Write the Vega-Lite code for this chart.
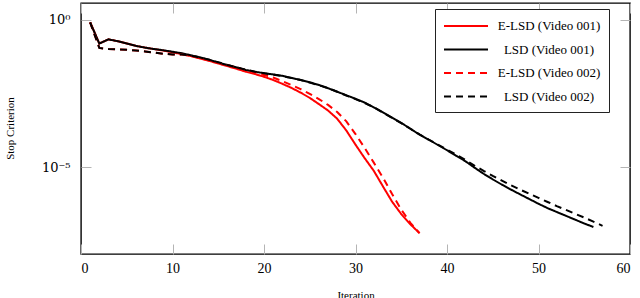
{
  "$schema": "https://vega.github.io/schema/vega-lite/v6.json",
  "width": 549,
  "height": 251,
  "autosize": {"type": "none"},
  "padding": {"left": 81, "top": 3, "right": 10, "bottom": 44},
  "background": "white",
  "datasets": {
    "curves": [
      {"s": "E-LSD (Video 001)", "x": 1, "y": 0.832},
      {"s": "E-LSD (Video 001)", "x": 2, "y": 0.158},
      {"s": "E-LSD (Video 001)", "x": 3, "y": 0.2188},
      {"s": "E-LSD (Video 001)", "x": 4, "y": 0.1905},
      {"s": "E-LSD (Video 001)", "x": 5, "y": 0.1585},
      {"s": "E-LSD (Video 001)", "x": 6, "y": 0.1318},
      {"s": "E-LSD (Video 001)", "x": 7, "y": 0.1148},
      {"s": "E-LSD (Video 001)", "x": 8, "y": 0.1023},
      {"s": "E-LSD (Video 001)", "x": 9, "y": 0.0912},
      {"s": "E-LSD (Video 001)", "x": 10, "y": 0.0794},
      {"s": "E-LSD (Video 001)", "x": 11, "y": 0.0692},
      {"s": "E-LSD (Video 001)", "x": 12, "y": 0.0589},
      {"s": "E-LSD (Video 001)", "x": 13, "y": 0.049},
      {"s": "E-LSD (Video 001)", "x": 14, "y": 0.0407},
      {"s": "E-LSD (Video 001)", "x": 15, "y": 0.0331},
      {"s": "E-LSD (Video 001)", "x": 16, "y": 0.0269},
      {"s": "E-LSD (Video 001)", "x": 17, "y": 0.0219},
      {"s": "E-LSD (Video 001)", "x": 18, "y": 0.0174},
      {"s": "E-LSD (Video 001)", "x": 19, "y": 0.0145},
      {"s": "E-LSD (Video 001)", "x": 20, "y": 0.0117},
      {"s": "E-LSD (Video 001)", "x": 21, "y": 0.00912},
      {"s": "E-LSD (Video 001)", "x": 22, "y": 0.00676},
      {"s": "E-LSD (Video 001)", "x": 23, "y": 0.0049},
      {"s": "E-LSD (Video 001)", "x": 24, "y": 0.00339},
      {"s": "E-LSD (Video 001)", "x": 25, "y": 0.00224},
      {"s": "E-LSD (Video 001)", "x": 26, "y": 0.00138},
      {"s": "E-LSD (Video 001)", "x": 27, "y": 8.32e-4},
      {"s": "E-LSD (Video 001)", "x": 28, "y": 4.37e-4},
      {"s": "E-LSD (Video 001)", "x": 29, "y": 1.74e-4},
      {"s": "E-LSD (Video 001)", "x": 30, "y": 5.75e-5},
      {"s": "E-LSD (Video 001)", "x": 31, "y": 2.0e-5},
      {"s": "E-LSD (Video 001)", "x": 32, "y": 7.41e-6},
      {"s": "E-LSD (Video 001)", "x": 33, "y": 2.19e-6},
      {"s": "E-LSD (Video 001)", "x": 34, "y": 6.61e-7},
      {"s": "E-LSD (Video 001)", "x": 35, "y": 2.51e-7},
      {"s": "E-LSD (Video 001)", "x": 36, "y": 1.12e-7},
      {"s": "E-LSD (Video 001)", "x": 37, "y": 5.62e-8},
      {"s": "LSD (Video 001)", "x": 1, "y": 0.832},
      {"s": "LSD (Video 001)", "x": 2, "y": 0.158},
      {"s": "LSD (Video 001)", "x": 3, "y": 0.2188},
      {"s": "LSD (Video 001)", "x": 4, "y": 0.1905},
      {"s": "LSD (Video 001)", "x": 5, "y": 0.1585},
      {"s": "LSD (Video 001)", "x": 6, "y": 0.1318},
      {"s": "LSD (Video 001)", "x": 7, "y": 0.1148},
      {"s": "LSD (Video 001)", "x": 8, "y": 0.1023},
      {"s": "LSD (Video 001)", "x": 9, "y": 0.0933},
      {"s": "LSD (Video 001)", "x": 10, "y": 0.0832},
      {"s": "LSD (Video 001)", "x": 11, "y": 0.0741},
      {"s": "LSD (Video 001)", "x": 12, "y": 0.0631},
      {"s": "LSD (Video 001)", "x": 13, "y": 0.0537},
      {"s": "LSD (Video 001)", "x": 14, "y": 0.0447},
      {"s": "LSD (Video 001)", "x": 15, "y": 0.0355},
      {"s": "LSD (Video 001)", "x": 16, "y": 0.0295},
      {"s": "LSD (Video 001)", "x": 17, "y": 0.0245},
      {"s": "LSD (Video 001)", "x": 18, "y": 0.02},
      {"s": "LSD (Video 001)", "x": 19, "y": 0.0174},
      {"s": "LSD (Video 001)", "x": 20, "y": 0.0155},
      {"s": "LSD (Video 001)", "x": 21, "y": 0.0141},
      {"s": "LSD (Video 001)", "x": 22, "y": 0.0126},
      {"s": "LSD (Video 001)", "x": 23, "y": 0.0107},
      {"s": "LSD (Video 001)", "x": 24, "y": 0.00912},
      {"s": "LSD (Video 001)", "x": 25, "y": 0.00759},
      {"s": "LSD (Video 001)", "x": 26, "y": 0.00617},
      {"s": "LSD (Video 001)", "x": 27, "y": 0.00479},
      {"s": "LSD (Video 001)", "x": 28, "y": 0.00363},
      {"s": "LSD (Video 001)", "x": 29, "y": 0.00275},
      {"s": "LSD (Video 001)", "x": 30, "y": 0.00209},
      {"s": "LSD (Video 001)", "x": 31, "y": 0.00155},
      {"s": "LSD (Video 001)", "x": 32, "y": 0.00107},
      {"s": "LSD (Video 001)", "x": 33, "y": 7.24e-4},
      {"s": "LSD (Video 001)", "x": 34, "y": 4.79e-4},
      {"s": "LSD (Video 001)", "x": 35, "y": 3.16e-4},
      {"s": "LSD (Video 001)", "x": 36, "y": 2.0e-4},
      {"s": "LSD (Video 001)", "x": 37, "y": 1.26e-4},
      {"s": "LSD (Video 001)", "x": 38, "y": 8.51e-5},
      {"s": "LSD (Video 001)", "x": 39, "y": 5.62e-5},
      {"s": "LSD (Video 001)", "x": 40, "y": 3.72e-5},
      {"s": "LSD (Video 001)", "x": 41, "y": 2.4e-5},
      {"s": "LSD (Video 001)", "x": 42, "y": 1.58e-5},
      {"s": "LSD (Video 001)", "x": 43, "y": 9.55e-6},
      {"s": "LSD (Video 001)", "x": 44, "y": 5.89e-6},
      {"s": "LSD (Video 001)", "x": 45, "y": 3.8e-6},
      {"s": "LSD (Video 001)", "x": 46, "y": 2.51e-6},
      {"s": "LSD (Video 001)", "x": 47, "y": 1.7e-6},
      {"s": "LSD (Video 001)", "x": 48, "y": 1.17e-6},
      {"s": "LSD (Video 001)", "x": 49, "y": 8.13e-7},
      {"s": "LSD (Video 001)", "x": 50, "y": 5.62e-7},
      {"s": "LSD (Video 001)", "x": 51, "y": 3.98e-7},
      {"s": "LSD (Video 001)", "x": 52, "y": 2.95e-7},
      {"s": "LSD (Video 001)", "x": 53, "y": 2.19e-7},
      {"s": "LSD (Video 001)", "x": 54, "y": 1.62e-7},
      {"s": "LSD (Video 001)", "x": 55, "y": 1.2e-7},
      {"s": "LSD (Video 001)", "x": 56, "y": 9.12e-8},
      {"s": "E-LSD (Video 002)", "x": 1, "y": 0.832},
      {"s": "E-LSD (Video 002)", "x": 2, "y": 0.1122},
      {"s": "E-LSD (Video 002)", "x": 3, "y": 0.1023},
      {"s": "E-LSD (Video 002)", "x": 4, "y": 0.1},
      {"s": "E-LSD (Video 002)", "x": 5, "y": 0.0977},
      {"s": "E-LSD (Video 002)", "x": 6, "y": 0.0912},
      {"s": "E-LSD (Video 002)", "x": 7, "y": 0.0851},
      {"s": "E-LSD (Video 002)", "x": 8, "y": 0.0776},
      {"s": "E-LSD (Video 002)", "x": 9, "y": 0.0708},
      {"s": "E-LSD (Video 002)", "x": 10, "y": 0.0676},
      {"s": "E-LSD (Video 002)", "x": 11, "y": 0.0676},
      {"s": "E-LSD (Video 002)", "x": 12, "y": 0.0603},
      {"s": "E-LSD (Video 002)", "x": 13, "y": 0.0501},
      {"s": "E-LSD (Video 002)", "x": 14, "y": 0.0417},
      {"s": "E-LSD (Video 002)", "x": 15, "y": 0.0347},
      {"s": "E-LSD (Video 002)", "x": 16, "y": 0.0288},
      {"s": "E-LSD (Video 002)", "x": 17, "y": 0.024},
      {"s": "E-LSD (Video 002)", "x": 18, "y": 0.0195},
      {"s": "E-LSD (Video 002)", "x": 19, "y": 0.0162},
      {"s": "E-LSD (Video 002)", "x": 20, "y": 0.0135},
      {"s": "E-LSD (Video 002)", "x": 21, "y": 0.011},
      {"s": "E-LSD (Video 002)", "x": 22, "y": 0.00832},
      {"s": "E-LSD (Video 002)", "x": 23, "y": 0.00617},
      {"s": "E-LSD (Video 002)", "x": 24, "y": 0.00447},
      {"s": "E-LSD (Video 002)", "x": 25, "y": 0.00309},
      {"s": "E-LSD (Video 002)", "x": 26, "y": 0.00204},
      {"s": "E-LSD (Video 002)", "x": 27, "y": 0.00129},
      {"s": "E-LSD (Video 002)", "x": 28, "y": 7.41e-4},
      {"s": "E-LSD (Video 002)", "x": 29, "y": 3.55e-4},
      {"s": "E-LSD (Video 002)", "x": 30, "y": 1.32e-4},
      {"s": "E-LSD (Video 002)", "x": 31, "y": 4.47e-5},
      {"s": "E-LSD (Video 002)", "x": 32, "y": 1.41e-5},
      {"s": "E-LSD (Video 002)", "x": 33, "y": 4.37e-6},
      {"s": "E-LSD (Video 002)", "x": 34, "y": 1.2e-6},
      {"s": "E-LSD (Video 002)", "x": 35, "y": 3.55e-7},
      {"s": "E-LSD (Video 002)", "x": 36, "y": 1.26e-7},
      {"s": "E-LSD (Video 002)", "x": 37, "y": 5.62e-8},
      {"s": "LSD (Video 002)", "x": 1, "y": 0.832},
      {"s": "LSD (Video 002)", "x": 2, "y": 0.1122},
      {"s": "LSD (Video 002)", "x": 3, "y": 0.1023},
      {"s": "LSD (Video 002)", "x": 4, "y": 0.1},
      {"s": "LSD (Video 002)", "x": 5, "y": 0.0977},
      {"s": "LSD (Video 002)", "x": 6, "y": 0.0912},
      {"s": "LSD (Video 002)", "x": 7, "y": 0.0851},
      {"s": "LSD (Video 002)", "x": 8, "y": 0.0776},
      {"s": "LSD (Video 002)", "x": 9, "y": 0.0708},
      {"s": "LSD (Video 002)", "x": 10, "y": 0.0676},
      {"s": "LSD (Video 002)", "x": 11, "y": 0.0676},
      {"s": "LSD (Video 002)", "x": 12, "y": 0.0617},
      {"s": "LSD (Video 002)", "x": 13, "y": 0.0525},
      {"s": "LSD (Video 002)", "x": 14, "y": 0.0447},
      {"s": "LSD (Video 002)", "x": 15, "y": 0.0363},
      {"s": "LSD (Video 002)", "x": 16, "y": 0.0295},
      {"s": "LSD (Video 002)", "x": 17, "y": 0.0245},
      {"s": "LSD (Video 002)", "x": 18, "y": 0.0204},
      {"s": "LSD (Video 002)", "x": 19, "y": 0.0174},
      {"s": "LSD (Video 002)", "x": 20, "y": 0.0155},
      {"s": "LSD (Video 002)", "x": 21, "y": 0.0138},
      {"s": "LSD (Video 002)", "x": 22, "y": 0.0123},
      {"s": "LSD (Video 002)", "x": 23, "y": 0.0107},
      {"s": "LSD (Video 002)", "x": 24, "y": 0.00912},
      {"s": "LSD (Video 002)", "x": 25, "y": 0.00741},
      {"s": "LSD (Video 002)", "x": 26, "y": 0.00603},
      {"s": "LSD (Video 002)", "x": 27, "y": 0.00479},
      {"s": "LSD (Video 002)", "x": 28, "y": 0.00363},
      {"s": "LSD (Video 002)", "x": 29, "y": 0.00269},
      {"s": "LSD (Video 002)", "x": 30, "y": 0.00204},
      {"s": "LSD (Video 002)", "x": 31, "y": 0.00151},
      {"s": "LSD (Video 002)", "x": 32, "y": 0.00107},
      {"s": "LSD (Video 002)", "x": 33, "y": 7.08e-4},
      {"s": "LSD (Video 002)", "x": 34, "y": 4.68e-4},
      {"s": "LSD (Video 002)", "x": 35, "y": 3.09e-4},
      {"s": "LSD (Video 002)", "x": 36, "y": 2.0e-4},
      {"s": "LSD (Video 002)", "x": 37, "y": 1.29e-4},
      {"s": "LSD (Video 002)", "x": 38, "y": 8.51e-5},
      {"s": "LSD (Video 002)", "x": 39, "y": 5.75e-5},
      {"s": "LSD (Video 002)", "x": 40, "y": 3.89e-5},
      {"s": "LSD (Video 002)", "x": 41, "y": 2.63e-5},
      {"s": "LSD (Video 002)", "x": 42, "y": 1.74e-5},
      {"s": "LSD (Video 002)", "x": 43, "y": 1.12e-5},
      {"s": "LSD (Video 002)", "x": 44, "y": 7.41e-6},
      {"s": "LSD (Video 002)", "x": 45, "y": 5.01e-6},
      {"s": "LSD (Video 002)", "x": 46, "y": 3.47e-6},
      {"s": "LSD (Video 002)", "x": 47, "y": 2.4e-6},
      {"s": "LSD (Video 002)", "x": 48, "y": 1.7e-6},
      {"s": "LSD (Video 002)", "x": 49, "y": 1.23e-6},
      {"s": "LSD (Video 002)", "x": 50, "y": 8.91e-7},
      {"s": "LSD (Video 002)", "x": 51, "y": 6.46e-7},
      {"s": "LSD (Video 002)", "x": 52, "y": 4.68e-7},
      {"s": "LSD (Video 002)", "x": 53, "y": 3.47e-7},
      {"s": "LSD (Video 002)", "x": 54, "y": 2.57e-7},
      {"s": "LSD (Video 002)", "x": 55, "y": 1.91e-7},
      {"s": "LSD (Video 002)", "x": 56, "y": 1.38e-7},
      {"s": "LSD (Video 002)", "x": 57, "y": 1.0e-7}
    ]
  },
  "data": {"name": "curves"},
  "layer": [
    {
      "mark": {"type": "line", "strokeWidth": 2, "clip": true},
      "encoding": {
        "x": {
          "field": "x", "type": "quantitative",
          "scale": {"domain": [0, 60], "nice": false, "zero": false},
          "axis": {"orient": "bottom", "values": [0, 10, 20, 30, 40, 50, 60], "title": "Iteration", "labelPadding": 17, "titleY": 35, "titleBaseline": "top"}
        },
        "y": {
          "field": "y", "type": "quantitative",
          "scale": {"type": "log", "domain": [1.1e-8, 3.78], "nice": false, "zero": false},
          "axis": {"orient": "left", "values": [1e-5, 1], "labelExpr": "datum.value > 0.5 ? '10⁰' : '10⁻⁵'", "labelFont": "DejaVu Serif", "labelFontSize": 13, "title": "Stop Criterion", "labelPadding": 21, "titleX": -66, "titleY": 125, "titleAngle": -90, "titleAnchor": "middle", "titleAlign": "center"}
        },
        "color": {
          "field": "s", "type": "nominal",
          "scale": {"domain": ["E-LSD (Video 001)", "LSD (Video 001)", "E-LSD (Video 002)", "LSD (Video 002)"], "range": ["#ff0000", "#000000", "#ff0000", "#000000"]},
          "legend": {
            "title": null, "orient": "none", "legendX": 354, "legendY": 6,
            "symbolType": "M-1,0H4.5", "symbolSize": 256, "symbolStrokeWidth": 2,
            "labelFont": "Liberation Serif", "labelFontSize": 13, "labelColor": "black",
            "labelAlign": "center", "labelOffset": 88,
            "padding": 8, "rowPadding": 7.5,
            "strokeColor": "#222222", "fillColor": "white", "cornerRadius": 0
          }
        },
        "strokeDash": {
          "field": "s", "type": "nominal",
          "scale": {"domain": ["E-LSD (Video 001)", "LSD (Video 001)", "E-LSD (Video 002)", "LSD (Video 002)"], "range": [[1, 0], [1, 0], [7, 5], [7, 5]]},
          "legend": {"title": null}
        },
        "order": {"field": "x", "type": "quantitative"}
      }
    },
    {
      "mark": {"type": "point", "opacity": 0},
      "encoding": {
        "x": {"field": "x", "type": "quantitative", "axis": {"orient": "top", "values": [0, 10, 20, 30, 40, 50, 60], "labels": false, "title": null}},
        "y": {"field": "y", "type": "quantitative", "axis": {"orient": "right", "values": [1e-5, 1], "labels": false, "title": null}}
      }
    }
  ],
  "resolve": {"axis": {"x": "independent", "y": "independent"}},
  "config": {
    "view": {"stroke": "#000000", "strokeWidth": 1.4},
    "axis": {
      "domain": false, "grid": false,
      "labelFont": "Liberation Serif", "labelFontSize": 14, "labelColor": "#000000",
      "tickColor": "#b4b4b4", "tickSize": -10, "tickWidth": 1,
      "titleFont": "Liberation Serif", "titleFontSize": 11, "titleFontWeight": "normal", "titleColor": "#000000"
    }
  }
}
